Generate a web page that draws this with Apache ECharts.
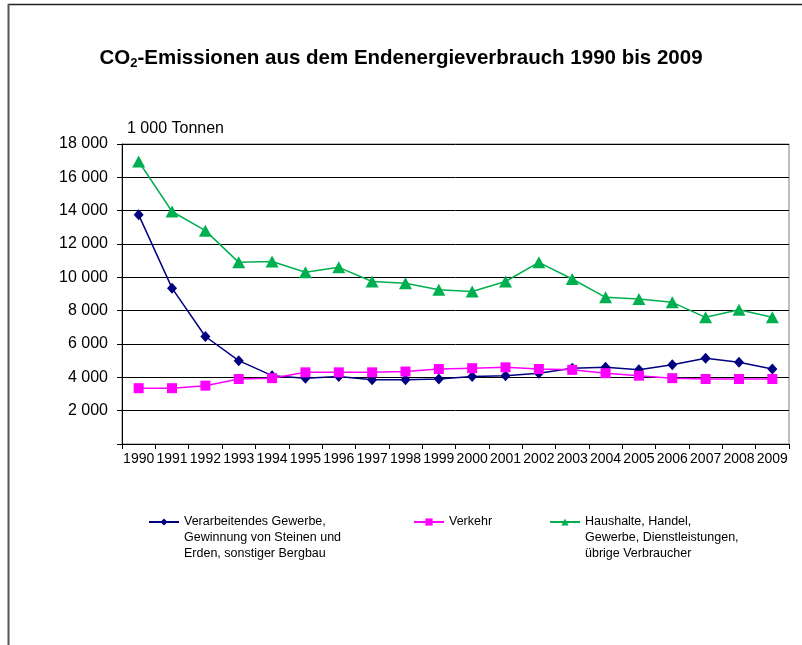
<!DOCTYPE html>
<html>
<head>
<meta charset="utf-8">
<script src="https://cdn.jsdelivr.net/npm/echarts@6/dist/echarts.min.js"></script>
<style>
html,body{margin:0;padding:0;background:#fff;}
#chart{width:802px;height:645px;}
</style>
</head>
<body>
<div id="chart"></div>
<script>
var years = ['1990','1991','1992','1993','1994','1995','1996','1997','1998','1999','2000','2001','2002','2003','2004','2005','2006','2007','2008','2009'];
var industry = [13750,9350,6450,5000,4100,3950,4050,3850,3850,3900,4050,4100,4250,4550,4600,4450,4750,5150,4900,4500];
var transport = [3350,3350,3500,3900,3950,4300,4300,4300,4350,4500,4550,4600,4500,4450,4250,4100,3950,3900,3900,3900];
var households = [16950,13950,12800,10900,10950,10300,10600,9750,9650,9250,9150,9750,10900,9900,8800,8700,8500,7600,8050,7600];
var yTicks = [0,2000,4000,6000,8000,10000,12000,14000,16000,18000];
var names = [
  'Verarbeitendes Gewerbe, Gewinnung von Steinen und Erden, sonstiger Bergbau',
  'Verkehr',
  'Haushalte, Handel, Gewerbe, Dienstleistungen, übrige Verbraucher'
];
var legendLabels = [
  'Verarbeitendes Gewerbe,\nGewinnung von Steinen und\nErden, sonstiger Bergbau',
  'Verkehr',
  'Haushalte, Handel,\nGewerbe, Dienstleistungen,\nübrige Verbraucher'
];
var colors = ['#000080','#FF00FF','#00B050'];

var FONT = 'Liberation Sans, Arial, sans-serif';
var chart = echarts.init(document.getElementById('chart'));

function fmt(v){
  if (v === 0) return '';
  var s = String(v);
  if (s.length > 3) s = s.slice(0, s.length-3) + ' ' + s.slice(s.length-3);
  return s;
}

function legendFor(i, left){
  var multi = legendLabels[i].indexOf('\n') >= 0;
  return {
    data: [names[i]],
    left: left,
    top: multi ? 482 : 514,
    padding: 0,
    itemWidth: 30,
    itemHeight: 9,
    itemGap: 0,
    selectedMode: false,
    formatter: function(){ return multi ? '\n\n' + legendLabels[i] : legendLabels[i]; },
    textStyle: {fontFamily: FONT, fontSize: 12.5, color: '#000', lineHeight: 16}
  };
}

chart.setOption({
  animation: false,
  backgroundColor: '#fff',
  title: [{
    text: '{b|CO}{s|2}{b|-Emissionen aus dem Endenergieverbrauch 1990 bis 2009}',
    left: 'center',
    top: 41,
    textStyle: {
      rich: {
        b: {fontFamily: FONT, fontSize: 20.5, fontWeight: 'bold', color: '#000', lineHeight: 24},
        s: {fontFamily: FONT, fontSize: 13, fontWeight: 'bold', color: '#000', lineHeight: 24, padding: [10,0,0,0]}
      }
    }
  },{
    text: '1 000 Tonnen',
    left: 122,
    top: 116,
    textStyle: {fontFamily: FONT, fontSize: 16, fontWeight: 'normal', color: '#000'}
  }],
  legend: [legendFor(0, 148), legendFor(1, 413), legendFor(2, 549)],
  grid: {
    left: 122, right: 13, top: 144, bottom: 201,
    show: true, borderColor: '#808080', borderWidth: 1
  },
  xAxis: {
    type: 'category',
    data: years,
    boundaryGap: true,
    axisLine: {lineStyle: {color: '#000', width: 1}},
    axisTick: {show: true, length: 5, lineStyle: {color: '#000'}},
    axisLabel: {interval: 0, fontFamily: FONT, fontSize: 14, color: '#000', margin: 8}
  },
  yAxis: {
    type: 'value',
    min: 0, max: 18000, interval: 2000,
    axisLine: {show: true, lineStyle: {color: '#000', width: 1}},
    axisTick: {show: true, length: 5, lineStyle: {color: '#000'}},
    axisLabel: {fontFamily: FONT, fontSize: 16, color: '#000', margin: 14, formatter: fmt},
    splitLine: {show: true, lineStyle: {color: '#000', width: 1}}
  },
  series: [{
    name: names[0], type: 'line', data: industry,
    symbol: 'diamond', symbolSize: [10, 11],
    itemStyle: {color: colors[0]}, lineStyle: {color: colors[0], width: 1.5}, z: 3
  },{
    name: names[1], type: 'line', data: transport,
    symbol: 'rect', symbolSize: 10,
    itemStyle: {color: colors[1]}, lineStyle: {color: colors[1], width: 1.5}, z: 4
  },{
    name: names[2], type: 'line', data: households,
    symbol: 'triangle', symbolSize: [13, 12],
    itemStyle: {color: colors[2]}, lineStyle: {color: colors[2], width: 1.5}, z: 5
  }],
  graphic: [{
    type: 'line', shape: {x1: 8, y1: 4.5, x2: 802, y2: 4.5},
    style: {stroke: '#222', lineWidth: 1.5}, silent: true
  },{
    type: 'line', shape: {x1: 8.5, y1: 4, x2: 8.5, y2: 645},
    style: {stroke: '#555', lineWidth: 2}, silent: true
  }]
});
</script>
</body>
</html>
